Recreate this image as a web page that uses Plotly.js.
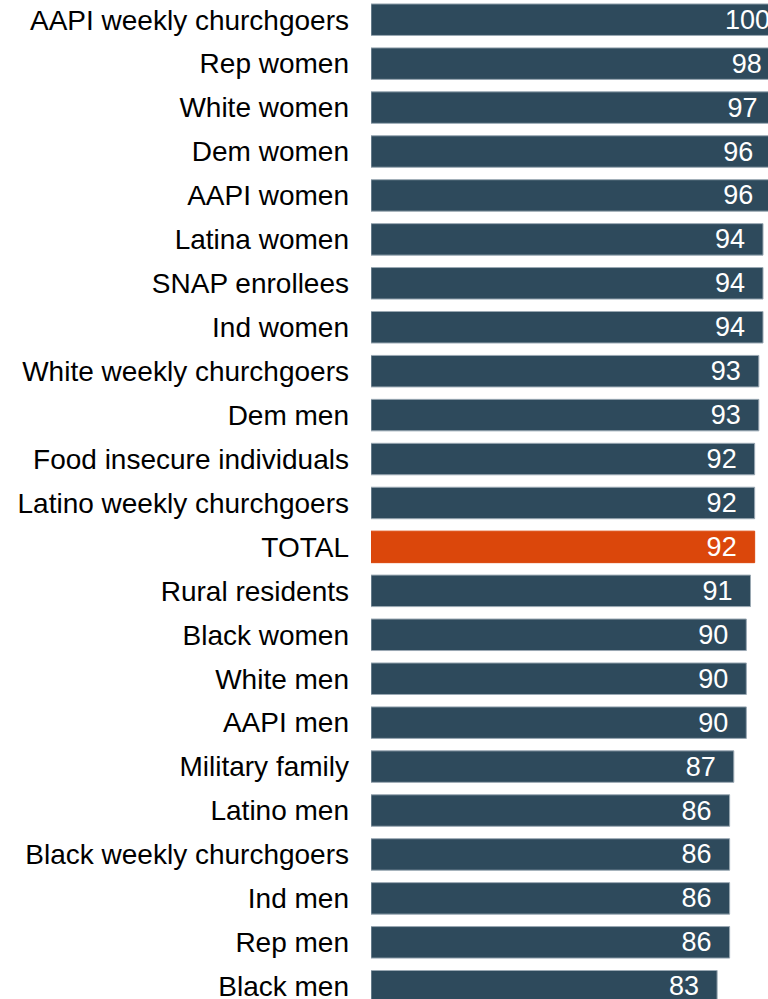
<!DOCTYPE html>
<html>
<head>
<meta charset="utf-8">
<script src="https://cdn.plot.ly/plotly-3.0.1.min.js"></script>
<style>html,body{margin:0;padding:0;background:#fff;}#chart{width:768px;height:999px;}</style>
</head>
<body>
<div id="chart"></div>
<script>
const categories = [
  "AAPI weekly churchgoers", "Rep women", "White women", "Dem women", "AAPI women",
  "Latina women", "SNAP enrollees", "Ind women", "White weekly churchgoers", "Dem men",
  "Food insecure individuals", "Latino weekly churchgoers", "TOTAL", "Rural residents",
  "Black women", "White men", "AAPI men", "Military family", "Latino men",
  "Black weekly churchgoers", "Ind men", "Rep men", "Black men"
];
const values = [100, 98, 97, 96, 96, 94, 94, 94, 93, 93, 92, 92, 92, 91, 90, 90, 90, 87, 86, 86, 86, 86, 83];
const highlight = "TOTAL";

const barColor = "#2E4A5C";
const totalColor = "#DB470B";
const colors = categories.map(c => c === highlight ? totalColor : barColor);
const lineColors = categories.map(c => c === highlight ? totalColor : "#9AA8B3");

const trace = {
  type: "bar",
  orientation: "h",
  y: categories,
  x: values,
  marker: { color: colors, line: { color: lineColors, width: 1 } },
  width: 0.717,
  text: values.map(v => String(v)),
  texttemplate: "%{text}\u00a0\u00a0",
  textposition: "inside",
  insidetextanchor: "end",
  constraintext: "none",
  insidetextfont: { family: "Liberation Sans, Arial, sans-serif", size: 27, color: "#ffffff" },
  hoverinfo: "none",
  cliponaxis: true
};

const layout = {
  width: 768,
  height: 999,
  margin: { l: 371, r: 0, t: 0, b: 0, pad: 0 },
  paper_bgcolor: "#ffffff",
  plot_bgcolor: "#ffffff",
  showlegend: false,
  xaxis: {
    range: [0, 95.2],
    showgrid: false, zeroline: false, showline: false, showticklabels: false, ticks: ""
  },
  yaxis: {
    type: "category",
    categoryorder: "array",
    categoryarray: categories,
    range: [22.29, -0.4485],
    showgrid: false, zeroline: false, showline: false,
    ticks: "",
    ticklabelstandoff: 21,
    tickfont: { family: "Liberation Sans, Arial, sans-serif", size: 28, color: "#000000" }
  }
};

Plotly.newPlot("chart", [trace], layout, { displayModeBar: false, staticPlot: true });
</script>
</body>
</html>
